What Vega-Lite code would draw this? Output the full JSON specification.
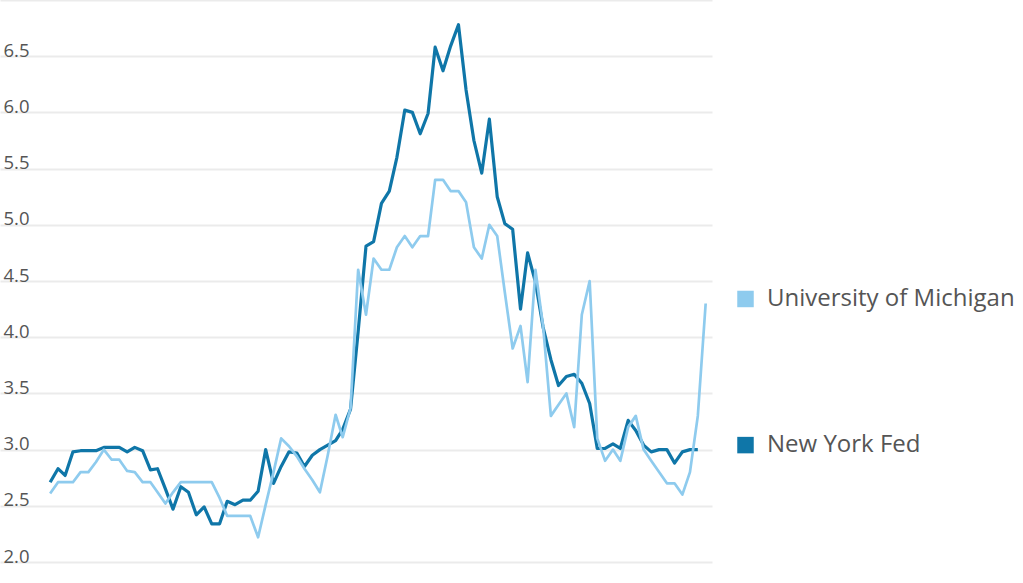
{
  "$schema": "https://vega.github.io/schema/vega-lite/v6.json",
  "width": 712,
  "height": 562,
  "autosize": {"type": "none"},
  "padding": {"left": 0, "top": 0, "right": 311, "bottom": 21},
  "background": "white",
  "config": {"view": {"stroke": null}, "font": "Open Sans"},
  "data": {"values": [
    {"date": "2018-01-01", "University of Michigan": 2.61, "New York Fed": 2.71},
    {"date": "2018-02-01", "University of Michigan": 2.71, "New York Fed": 2.83},
    {"date": "2018-03-01", "University of Michigan": 2.71, "New York Fed": 2.77},
    {"date": "2018-04-01", "University of Michigan": 2.71, "New York Fed": 2.98},
    {"date": "2018-05-01", "University of Michigan": 2.80, "New York Fed": 2.99},
    {"date": "2018-06-01", "University of Michigan": 2.80, "New York Fed": 2.99},
    {"date": "2018-07-01", "University of Michigan": 2.89, "New York Fed": 2.99},
    {"date": "2018-08-01", "University of Michigan": 3.00, "New York Fed": 3.02},
    {"date": "2018-09-01", "University of Michigan": 2.91, "New York Fed": 3.02},
    {"date": "2018-10-01", "University of Michigan": 2.91, "New York Fed": 3.02},
    {"date": "2018-11-01", "University of Michigan": 2.81, "New York Fed": 2.98},
    {"date": "2018-12-01", "University of Michigan": 2.80, "New York Fed": 3.02},
    {"date": "2019-01-01", "University of Michigan": 2.71, "New York Fed": 2.99},
    {"date": "2019-02-01", "University of Michigan": 2.71, "New York Fed": 2.82},
    {"date": "2019-03-01", "University of Michigan": 2.62, "New York Fed": 2.83},
    {"date": "2019-04-01", "University of Michigan": 2.52, "New York Fed": 2.65},
    {"date": "2019-05-01", "University of Michigan": 2.62, "New York Fed": 2.47},
    {"date": "2019-06-01", "University of Michigan": 2.71, "New York Fed": 2.67},
    {"date": "2019-07-01", "University of Michigan": 2.71, "New York Fed": 2.62},
    {"date": "2019-08-01", "University of Michigan": 2.71, "New York Fed": 2.42},
    {"date": "2019-09-01", "University of Michigan": 2.71, "New York Fed": 2.49},
    {"date": "2019-10-01", "University of Michigan": 2.71, "New York Fed": 2.34},
    {"date": "2019-11-01", "University of Michigan": 2.57, "New York Fed": 2.34},
    {"date": "2019-12-01", "University of Michigan": 2.41, "New York Fed": 2.54},
    {"date": "2020-01-01", "University of Michigan": 2.41, "New York Fed": 2.51},
    {"date": "2020-02-01", "University of Michigan": 2.41, "New York Fed": 2.55},
    {"date": "2020-03-01", "University of Michigan": 2.41, "New York Fed": 2.55},
    {"date": "2020-04-01", "University of Michigan": 2.22, "New York Fed": 2.63},
    {"date": "2020-05-01", "University of Michigan": 2.51, "New York Fed": 3.00},
    {"date": "2020-06-01", "University of Michigan": 2.80, "New York Fed": 2.70},
    {"date": "2020-07-01", "University of Michigan": 3.10, "New York Fed": 2.85},
    {"date": "2020-08-01", "University of Michigan": 3.03, "New York Fed": 2.98},
    {"date": "2020-09-01", "University of Michigan": 2.94, "New York Fed": 2.97},
    {"date": "2020-10-01", "University of Michigan": 2.83, "New York Fed": 2.85},
    {"date": "2020-11-01", "University of Michigan": 2.73, "New York Fed": 2.95},
    {"date": "2020-12-01", "University of Michigan": 2.62, "New York Fed": 3.00},
    {"date": "2021-01-01", "University of Michigan": 2.95, "New York Fed": 3.04},
    {"date": "2021-02-01", "University of Michigan": 3.31, "New York Fed": 3.08},
    {"date": "2021-03-01", "University of Michigan": 3.11, "New York Fed": 3.18},
    {"date": "2021-04-01", "University of Michigan": 3.37, "New York Fed": 3.36},
    {"date": "2021-05-01", "University of Michigan": 4.60, "New York Fed": 4.05},
    {"date": "2021-06-01", "University of Michigan": 4.20, "New York Fed": 4.81},
    {"date": "2021-07-01", "University of Michigan": 4.70, "New York Fed": 4.85},
    {"date": "2021-08-01", "University of Michigan": 4.60, "New York Fed": 5.19},
    {"date": "2021-09-01", "University of Michigan": 4.60, "New York Fed": 5.30},
    {"date": "2021-10-01", "University of Michigan": 4.80, "New York Fed": 5.60},
    {"date": "2021-11-01", "University of Michigan": 4.90, "New York Fed": 6.02},
    {"date": "2021-12-01", "University of Michigan": 4.80, "New York Fed": 6.00},
    {"date": "2022-01-01", "University of Michigan": 4.90, "New York Fed": 5.81},
    {"date": "2022-02-01", "University of Michigan": 4.90, "New York Fed": 5.99},
    {"date": "2022-03-01", "University of Michigan": 5.40, "New York Fed": 6.58},
    {"date": "2022-04-01", "University of Michigan": 5.40, "New York Fed": 6.37},
    {"date": "2022-05-01", "University of Michigan": 5.30, "New York Fed": 6.59},
    {"date": "2022-06-01", "University of Michigan": 5.30, "New York Fed": 6.78},
    {"date": "2022-07-01", "University of Michigan": 5.20, "New York Fed": 6.20},
    {"date": "2022-08-01", "University of Michigan": 4.80, "New York Fed": 5.75},
    {"date": "2022-09-01", "University of Michigan": 4.70, "New York Fed": 5.46},
    {"date": "2022-10-01", "University of Michigan": 5.00, "New York Fed": 5.94},
    {"date": "2022-11-01", "University of Michigan": 4.90, "New York Fed": 5.25},
    {"date": "2022-12-01", "University of Michigan": 4.40, "New York Fed": 5.01},
    {"date": "2023-01-01", "University of Michigan": 3.90, "New York Fed": 4.96},
    {"date": "2023-02-01", "University of Michigan": 4.10, "New York Fed": 4.25},
    {"date": "2023-03-01", "University of Michigan": 3.60, "New York Fed": 4.75},
    {"date": "2023-04-01", "University of Michigan": 4.60, "New York Fed": 4.49},
    {"date": "2023-05-01", "University of Michigan": 4.10, "New York Fed": 4.09},
    {"date": "2023-06-01", "University of Michigan": 3.30, "New York Fed": 3.80},
    {"date": "2023-07-01", "University of Michigan": 3.40, "New York Fed": 3.57},
    {"date": "2023-08-01", "University of Michigan": 3.50, "New York Fed": 3.65},
    {"date": "2023-09-01", "University of Michigan": 3.20, "New York Fed": 3.67},
    {"date": "2023-10-01", "University of Michigan": 4.20, "New York Fed": 3.59},
    {"date": "2023-11-01", "University of Michigan": 4.50, "New York Fed": 3.41},
    {"date": "2023-12-01", "University of Michigan": 3.10, "New York Fed": 3.01},
    {"date": "2024-01-01", "University of Michigan": 2.90, "New York Fed": 3.01},
    {"date": "2024-02-01", "University of Michigan": 3.00, "New York Fed": 3.05},
    {"date": "2024-03-01", "University of Michigan": 2.90, "New York Fed": 3.01},
    {"date": "2024-04-01", "University of Michigan": 3.20, "New York Fed": 3.26},
    {"date": "2024-05-01", "University of Michigan": 3.30, "New York Fed": 3.17},
    {"date": "2024-06-01", "University of Michigan": 3.00, "New York Fed": 3.04},
    {"date": "2024-07-01", "University of Michigan": 2.90, "New York Fed": 2.98},
    {"date": "2024-08-01", "University of Michigan": 2.80, "New York Fed": 3.00},
    {"date": "2024-09-01", "University of Michigan": 2.70, "New York Fed": 3.00},
    {"date": "2024-10-01", "University of Michigan": 2.70, "New York Fed": 2.88},
    {"date": "2024-11-01", "University of Michigan": 2.60, "New York Fed": 2.98},
    {"date": "2024-12-01", "University of Michigan": 2.80, "New York Fed": 3.00},
    {"date": "2025-01-01", "University of Michigan": 3.30, "New York Fed": 3.00},
    {"date": "2025-02-01", "University of Michigan": 4.30, "New York Fed": null}
  ]},
  "transform": [
    {"fold": ["University of Michigan", "New York Fed"], "as": ["series", "value"]},
    {"filter": "datum.value != null"}
  ],
  "encoding": {
    "x": {
      "field": "date",
      "type": "temporal",
      "scale": {"type": "utc", "domain": [{"year": 2017, "month": 6, "date": 17, "utc": true}, {"year": 2025, "month": 2, "date": 26, "utc": true}]},
      "axis": null
    },
    "y": {
      "field": "value",
      "type": "quantitative",
      "scale": {"domain": [2, 7], "nice": false, "zero": false},
      "axis": {
        "values": [2, 2.5, 3, 3.5, 4, 4.5, 5, 5.5, 6, 6.5, 7],
        "format": ".1f",
        "labelExpr": "datum.value >= 7 ? '' : datum.label",
        "domain": false,
        "ticks": false,
        "tickSize": 0,
        "labelAlign": "left",
        "labelBaseline": "alphabetic",
        "labelPadding": -3,
        "labelDy": -4,
        "labelFont": "Open Sans",
        "labelFontSize": 18.5,
        "labelColor": "#555555",
        "labelOverlap": false,
        "labelFlush": false,
        "gridColor": "#ebebeb",
        "gridWidth": 2,
        "title": null
      }
    },
    "color": {
      "field": "series",
      "type": "nominal",
      "scale": {"domain": ["University of Michigan", "New York Fed"], "range": ["#8ecbee", "#0f76a8"]},
      "legend": null
    }
  },
  "layer": [
    {
      "transform": [{"filter": "datum.series === 'New York Fed'"}],
      "mark": {"type": "line", "strokeWidth": 3.2, "strokeJoin": "round"}
    },
    {
      "transform": [{"filter": "datum.series === 'University of Michigan'"}],
      "mark": {"type": "line", "strokeWidth": 2.7, "strokeJoin": "round"}
    },
    {
      "transform": [
        {"window": [{"op": "row_number", "as": "rn"}], "sort": [{"field": "date", "order": "descending"}], "groupby": ["series"]},
        {"filter": "datum.rn === 1"}
      ],
      "layer": [
        {
          "mark": {"type": "point", "shape": "square", "filled": true, "size": 272, "opacity": 1, "xOffset": 33.5, "yOffset": -4.5},
          "encoding": {"x": {"datum": {"year": 2025, "month": 2, "date": 26, "utc": true}, "type": "temporal"}}
        },
        {
          "mark": {"type": "text", "align": "left", "baseline": "middle", "dx": 55, "dy": -4.5, "fontSize": 24, "font": "Open Sans"},
          "encoding": {
            "x": {"datum": {"year": 2025, "month": 2, "date": 26, "utc": true}, "type": "temporal"},
            "text": {"field": "series"},
            "color": {"value": "#555555"}
          }
        }
      ]
    }
  ]
}
